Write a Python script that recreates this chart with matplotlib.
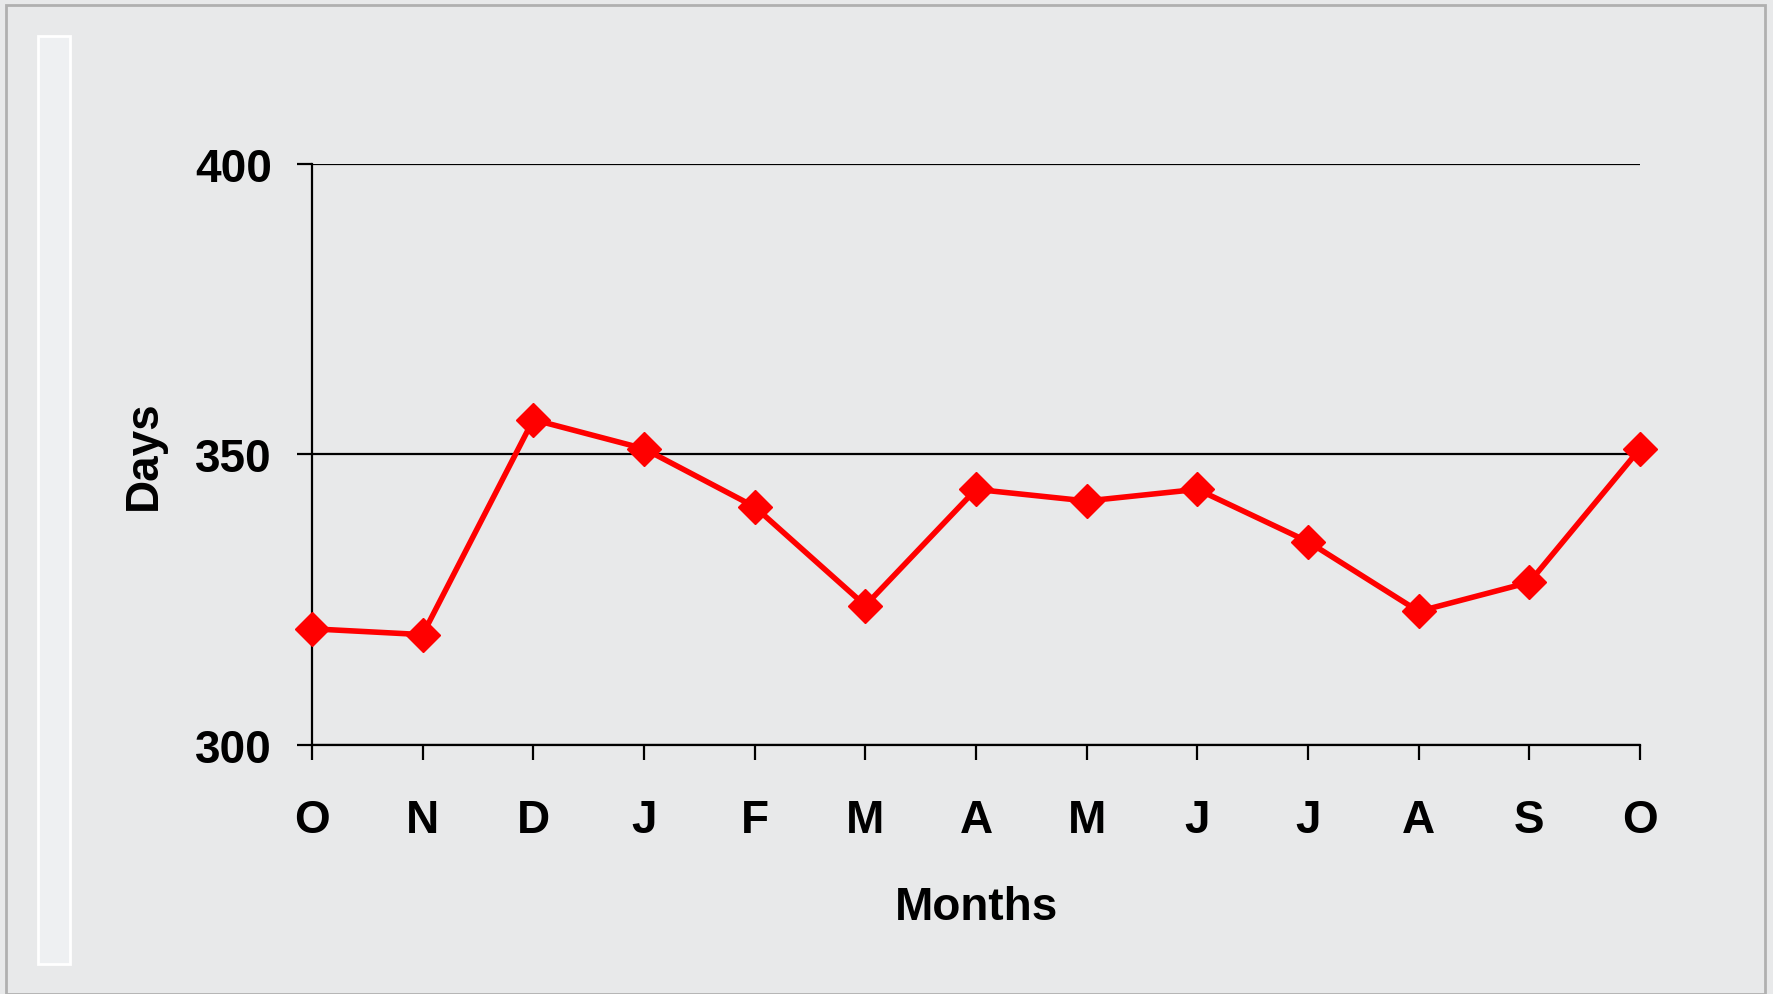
import matplotlib
matplotlib.use('Agg')
import matplotlib.pyplot as plt
from matplotlib.patches import Rectangle

months = ['O', 'N', 'D', 'J', 'F', 'M', 'A', 'M', 'J', 'J', 'A', 'S', 'O']
days = [320, 319, 356, 351, 341, 324, 344, 342, 344, 335, 323, 328, 351]
yticks = [300, 350, 400]

plt.rcParams['font.family'] = ['Liberation Sans', 'DejaVu Sans']
plt.rcParams['font.weight'] = 'bold'

fig = plt.figure(figsize=(17.73, 9.95), dpi=100)
fig.patch.set_facecolor('#e8e9ea')

# slide frame
fig.patches.append(Rectangle((6 / 1773, 0), 1759 / 1773, 989 / 995, transform=fig.transFigure,
                             fill=False, edgecolor='#b0b0b0', lw=2))
fig.patches.append(Rectangle((38 / 1773, 30 / 995), 32 / 1773, 928 / 995, transform=fig.transFigure,
                             facecolor='#eef0f2', edgecolor='white', lw=2))

ax = fig.add_axes([312 / 1773, 1 - 746 / 995, 1328 / 1773, 581 / 995])
ax.set_facecolor('none')
x = list(range(len(months)))
ax.plot(x, days, color='#ff0000', lw=4, marker='D', markersize=17, clip_on=False, zorder=3)

ax.set_xlim(0, len(months) - 1)
ax.set_ylim(300, 400)
ax.set_xticks(x)
ax.set_xticklabels(months)
ax.set_yticks(yticks)
ax.set_yticklabels([str(v) for v in yticks])
ax.tick_params(axis='both', direction='out', length=11, width=1.6, color='black', labelsize=33)
ax.tick_params(axis='y', pad=18)
ax.tick_params(axis='x', pad=27)
ax.yaxis.grid(True, color='black', lw=1.6)
ax.set_axisbelow(True)
for s in ['top', 'right']:
    ax.spines[s].set_visible(False)
for s in ['left', 'bottom']:
    ax.spines[s].set_linewidth(1.6)

ax.set_xlabel('Months', fontsize=33, fontweight='bold', labelpad=31)
ax.set_ylabel('Days', fontsize=33, fontweight='bold', labelpad=21)

fig.savefig('out.png', dpi=100, facecolor=fig.get_facecolor())
